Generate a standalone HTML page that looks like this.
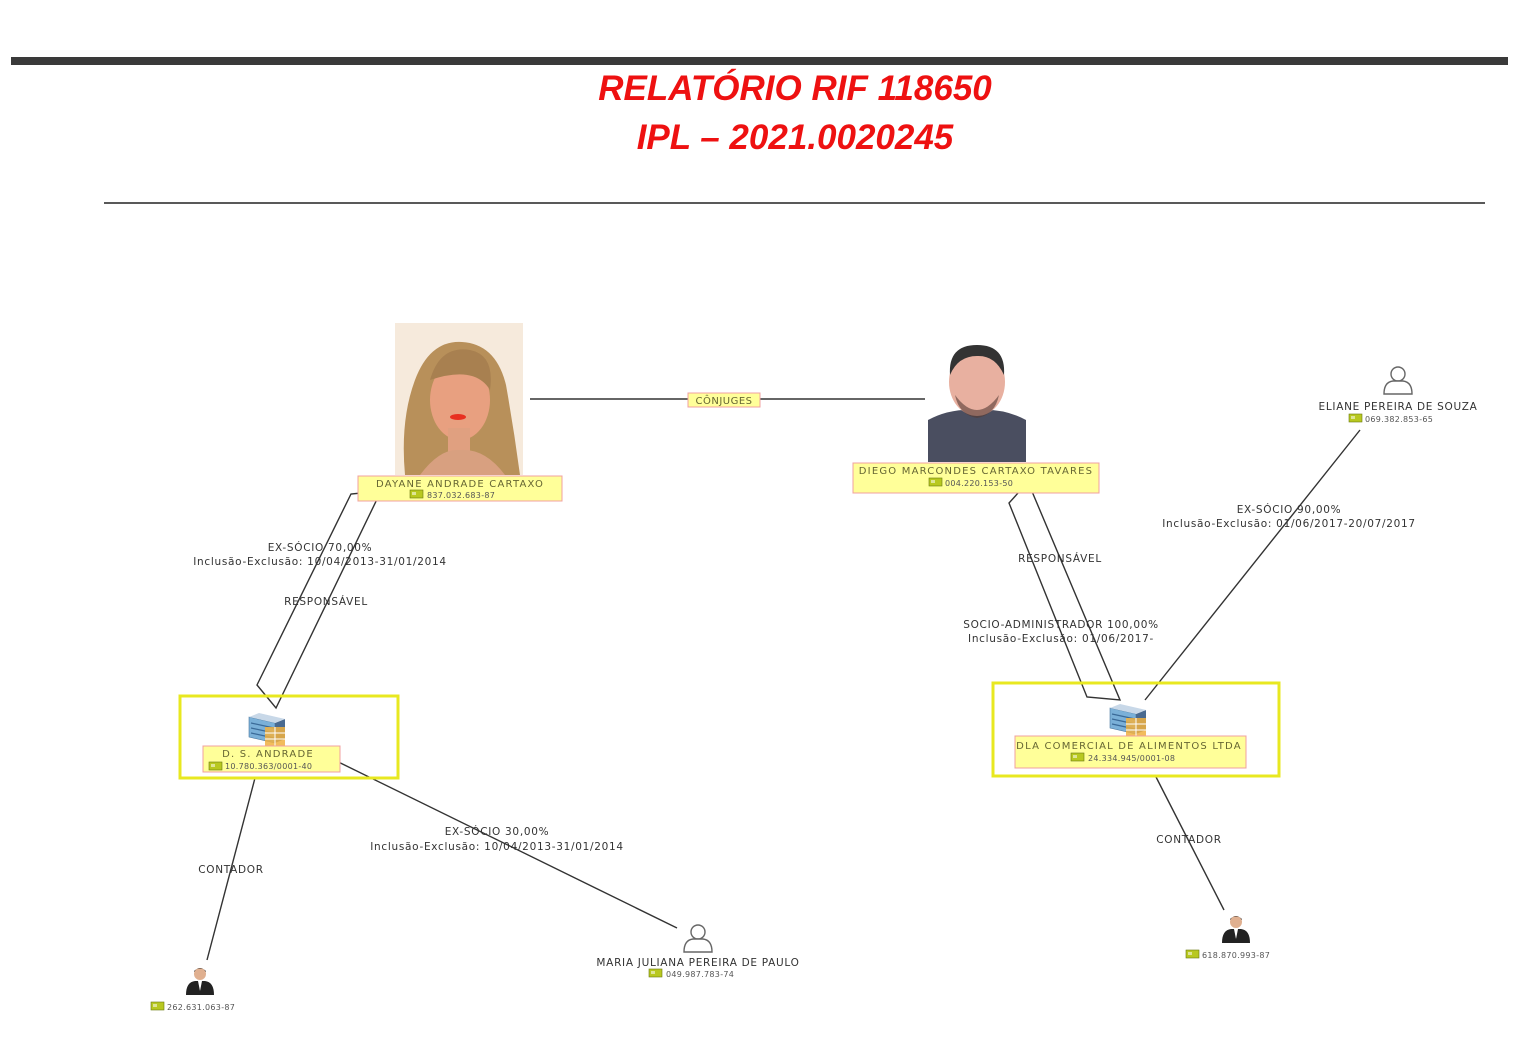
<!DOCTYPE html>
<html><head><meta charset="utf-8"><style>
html,body{margin:0;padding:0;background:#fff;}
svg{display:block;}
text{font-family:"DejaVu Sans","Liberation Sans",sans-serif;}
.l{font-size:10.5px;fill:#333;letter-spacing:0.7px;}
.n{font-size:10px;fill:#666633;letter-spacing:1.2px;}
.c{font-size:8px;fill:#555;letter-spacing:0.3px;}
</style></head><body>
<svg width="1524" height="1058" viewBox="0 0 1524 1058" xmlns="http://www.w3.org/2000/svg">
<defs>
<g id="cpf"><rect x="0" y="0" width="13" height="8" fill="#b8c820" stroke="#6a7a10" stroke-width="0.6"/><rect x="2" y="2" width="4" height="3" fill="#fff8"/></g>
<g id="bld">
<polygon points="0,4 26,10 26,30 0,24" fill="#7ab0d8" stroke="#4a78a0" stroke-width="0.6"/>
<polygon points="26,10 36,6 36,26 26,30" fill="#4a6a90"/>
<polygon points="0,4 10,0 36,6 26,10" fill="#c8d8e8"/>
<g stroke="#3a6a98" stroke-width="1.2"><line x1="2" y1="10" x2="25" y2="15"/><line x1="2" y1="15" x2="25" y2="20"/><line x1="2" y1="20" x2="25" y2="25"/></g>
<rect x="16" y="14" width="20" height="20" fill="#f0b040" opacity="0.85"/>
<g stroke="#fff" stroke-width="1"><line x1="16" y1="20" x2="36" y2="20"/><line x1="16" y1="26" x2="36" y2="26"/><line x1="26" y1="14" x2="26" y2="34"/></g>
</g>
<g id="usr" fill="#fff" stroke="#666" stroke-width="1.4"><circle cx="0" cy="-8" r="7"/><path d="M-14,12 Q-14,0 -5,-1 L5,-1 Q14,0 14,12 Z"/></g>
<g id="man"><circle cx="0" cy="-9" r="6" fill="#e0b090"/><path d="M-6,-11 Q0,-19 6,-11 L6,-12 Q0,-17 -6,-12Z" fill="#222"/><path d="M-14,12 Q-14,-1 -5,-2 L5,-2 Q14,-1 14,12Z" fill="#222"/><path d="M-2,-2 L2,-2 L0,8Z" fill="#fff"/></g>
</defs>

<rect x="11" y="57" width="1497" height="8" fill="#3a3a3a"/>
<text x="795" y="100" text-anchor="middle" font-size="35" font-weight="bold" font-style="italic" fill="#ee1111" style="font-family:'Liberation Sans',sans-serif">RELATÓRIO RIF 118650</text>
<text x="795" y="149" text-anchor="middle" font-size="35" font-weight="bold" font-style="italic" fill="#ee1111" style="font-family:'Liberation Sans',sans-serif">IPL – 2021.0020245</text>
<line x1="104" y1="203" x2="1485" y2="203" stroke="#222" stroke-width="1.5"/>

<g stroke="#333" stroke-width="1.4" fill="none">
<line x1="530" y1="399" x2="925" y2="399"/>
<polyline points="381,491 276,708 257,685 351,494 381,491"/>
<polyline points="1028,482 1120,700 1087,697 1009,503 1028,482"/>
<line x1="1360" y1="430" x2="1145" y2="700"/>
<line x1="255" y1="778" x2="207" y2="960"/>
<line x1="318" y1="752" x2="677" y2="928"/>
<line x1="1155" y1="775" x2="1224" y2="910"/>
</g>

<g text-anchor="middle">
<rect x="688" y="393" width="72" height="14" fill="#ffff99" stroke="#f0a0a0"/>
<text x="724" y="404" class="n" style="letter-spacing:0.5px">CÔNJUGES</text>
<text x="320" y="551" class="l">EX-SÓCIO 70,00%</text>
<text x="320" y="565" class="l">Inclusão-Exclusão: 10/04/2013-31/01/2014</text>
<text x="326" y="605" class="l">RESPONSÁVEL</text>
<text x="1060" y="562" class="l">RESPONSÁVEL</text>
<text x="1061" y="628" class="l">SOCIO-ADMINISTRADOR 100,00%</text>
<text x="1061" y="642" class="l">Inclusão-Exclusão: 01/06/2017-</text>
<text x="1289" y="513" class="l">EX-SÓCIO 90,00%</text>
<text x="1289" y="527" class="l">Inclusão-Exclusão: 01/06/2017-20/07/2017</text>
<text x="497" y="835" class="l">EX-SÓCIO 30,00%</text>
<text x="497" y="850" class="l">Inclusão-Exclusão: 10/04/2013-31/01/2014</text>
<text x="231" y="873" class="l">CONTADOR</text>
<text x="1189" y="843" class="l">CONTADOR</text>
</g>

<rect x="395" y="323" width="128" height="152" fill="#f6eadc"/>
<path d="M405,475 Q400,420 415,380 Q430,340 462,342 Q496,344 506,385 Q514,430 520,475 Z" fill="#b8905a"/>
<ellipse cx="460" cy="400" rx="30" ry="40" fill="#e8a080"/>
<path d="M430,380 Q440,345 470,350 Q495,355 490,390 Q475,365 430,380Z" fill="#a88050"/>
<rect x="448" y="428" width="22" height="47" fill="#e0a080"/>
<path d="M420,475 Q440,448 460,450 Q485,448 505,475Z" fill="#d8a080"/>
<ellipse cx="458" cy="417" rx="8" ry="3" fill="#e83020"/>
<rect x="358" y="476" width="204" height="25" fill="#ffff99" stroke="#f0a0a0"/>
<text x="460" y="487" text-anchor="middle" class="n">DAYANE ANDRADE CARTAXO</text>
<use href="#cpf" x="410" y="490"/><text x="427" y="498" class="c">837.032.683-87</text>

<rect x="928" y="343" width="98" height="119" fill="#fff"/>
<path d="M928,462 L928,420 Q950,408 977,410 Q1004,408 1026,420 L1026,462Z" fill="#4a4e60"/>
<ellipse cx="977" cy="382" rx="28" ry="34" fill="#e8b0a0"/>
<path d="M950,375 Q948,345 977,345 Q1006,345 1004,375 Q995,355 977,356 Q958,356 950,375Z" fill="#333"/>
<path d="M955,395 Q977,425 999,395 Q995,415 977,418 Q959,415 955,395Z" fill="#553a34" opacity="0.6"/>
<rect x="853" y="463" width="246" height="30" fill="#ffff99" stroke="#f0a0a0"/>
<text x="976" y="474" text-anchor="middle" class="n">DIEGO MARCONDES CARTAXO TAVARES</text>
<use href="#cpf" x="929" y="478"/><text x="945" y="486" class="c">004.220.153-50</text>

<use href="#usr" x="1398" y="382"/>
<text x="1398" y="410" text-anchor="middle" class="l">ELIANE PEREIRA DE SOUZA</text>
<use href="#cpf" x="1349" y="414"/><text x="1365" y="422" class="c">069.382.853-65</text>

<rect x="180" y="696" width="218" height="82" fill="none" stroke="#e8e820" stroke-width="3"/>
<use href="#bld" x="249" y="713"/>
<rect x="203" y="746" width="137" height="26" fill="#ffff99" stroke="#f0a0a0"/>
<text x="268" y="757" text-anchor="middle" class="n">D. S. ANDRADE</text>
<use href="#cpf" x="209" y="762"/><text x="225" y="769" class="c">10.780.363/0001-40</text>

<rect x="993" y="683" width="286" height="93" fill="none" stroke="#e8e820" stroke-width="3"/>
<use href="#bld" x="1110" y="704"/>
<rect x="1015" y="736" width="231" height="32" fill="#ffff99" stroke="#f0a0a0"/>
<text x="1129" y="749" text-anchor="middle" class="n">DLA COMERCIAL DE ALIMENTOS LTDA</text>
<use href="#cpf" x="1071" y="753"/><text x="1088" y="761" class="c">24.334.945/0001-08</text>

<use href="#man" x="200" y="983"/>
<use href="#cpf" x="151" y="1002"/><text x="167" y="1010" class="c">262.631.063-87</text>
<use href="#usr" x="698" y="940"/>
<text x="698" y="966" text-anchor="middle" class="l">MARIA JULIANA PEREIRA DE PAULO</text>
<use href="#cpf" x="649" y="969"/><text x="666" y="977" class="c">049.987.783-74</text>
<use href="#man" x="1236" y="931"/>
<use href="#cpf" x="1186" y="950"/><text x="1202" y="958" class="c">618.870.993-87</text>
</svg>
</body></html>
